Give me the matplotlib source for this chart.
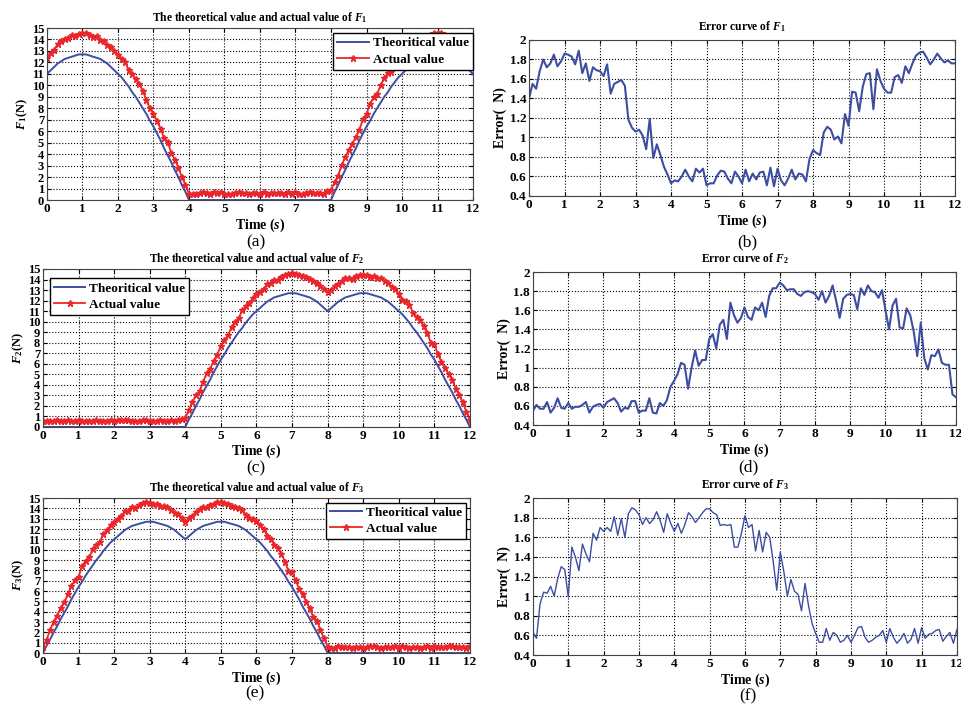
import numpy as np
import matplotlib.pyplot as plt

plt.rcParams['font.family'] = 'Liberation Serif'
plt.rcParams['font.weight'] = 'bold'
plt.rcParams['axes.labelweight'] = 'bold'
plt.rcParams['axes.titleweight'] = 'bold'
plt.rcParams['mathtext.fontset'] = 'custom'
plt.rcParams['mathtext.rm'] = 'Liberation Serif:bold'
plt.rcParams['mathtext.it'] = 'Liberation Serif:italic:bold'
plt.rcParams['mathtext.bf'] = 'Liberation Serif:bold'

BLUE = '#3d4ea2'
RED = '#e8262b'

# sampling instants, 0.1 s apart
time = np.linspace(0, 12, 121)

# theoretical force pieces over a 4 s stroke (0.1 s samples)
rise = [0.0, 0.7, 1.3, 2.0, 2.6, 3.3, 3.9, 4.5, 5.2, 5.8,
        6.4, 6.9, 7.5, 8.0, 8.5, 9.0, 9.4, 9.9, 10.3, 10.7,
        11.0, 11.3, 11.6, 11.9, 12.1, 12.3, 12.4, 12.5, 12.6, 12.7,
        12.7, 12.7, 12.6, 12.5, 12.4, 12.3, 12.1, 11.9, 11.6, 11.3]
fall = [11.0, 11.3, 11.6, 11.9, 12.1, 12.3, 12.4, 12.5, 12.6, 12.7,
        12.7, 12.7, 12.6, 12.5, 12.4, 12.3, 12.1, 11.9, 11.6, 11.3,
        11.0, 10.7, 10.3, 9.9, 9.4, 9.0, 8.5, 8.0, 7.5, 6.9,
        6.4, 5.8, 5.2, 4.5, 3.9, 3.3, 2.6, 2.0, 1.3, 0.7]
idle = [0.0] * 40

theory_f1 = np.array(fall + idle + rise + [11.0])
theory_f2 = np.array(idle + rise + fall + [0.0])
theory_f3 = np.array(rise + fall + idle + [0.0])

# measured error (N)
error_f1 = np.array([
    1.40, 1.55, 1.50, 1.68, 1.80, 1.72, 1.76, 1.85, 1.73, 1.78,
    1.86, 1.85, 1.83, 1.75, 1.89, 1.66, 1.76, 1.58, 1.72, 1.69,
    1.68, 1.63, 1.75, 1.45, 1.55, 1.57, 1.59, 1.53, 1.18, 1.10,
    1.06, 1.08, 1.02, 0.88, 1.19, 0.79, 0.93, 0.82, 0.70, 0.62,
    0.53, 0.56, 0.55, 0.60, 0.67, 0.60, 0.55, 0.68, 0.64, 0.68,
    0.51, 0.53, 0.53, 0.61, 0.66, 0.65, 0.58, 0.53, 0.65, 0.60,
    0.53, 0.67, 0.55, 0.63, 0.57, 0.64, 0.65, 0.51, 0.69, 0.50,
    0.68, 0.56, 0.51, 0.58, 0.67, 0.57, 0.63, 0.62, 0.55, 0.78,
    0.87, 0.84, 0.82, 1.05, 1.11, 1.08, 0.98, 1.01, 0.94, 1.24,
    1.12, 1.47, 1.46, 1.27, 1.52, 1.65, 1.66, 1.29, 1.70, 1.58,
    1.50, 1.46, 1.46, 1.62, 1.64, 1.56, 1.73, 1.66, 1.76, 1.84,
    1.87, 1.88, 1.82, 1.75, 1.80, 1.86, 1.81, 1.77, 1.79, 1.76,
    1.76])
error_f2 = np.array([
    0.55, 0.61, 0.57, 0.57, 0.64, 0.53, 0.58, 0.68, 0.58, 0.57,
    0.63, 0.57, 0.59, 0.59, 0.61, 0.64, 0.53, 0.59, 0.61, 0.62,
    0.58, 0.64, 0.66, 0.68, 0.63, 0.54, 0.58, 0.57, 0.65, 0.65,
    0.53, 0.55, 0.55, 0.68, 0.53, 0.52, 0.63, 0.60, 0.66, 0.80,
    0.86, 0.93, 1.05, 1.03, 0.78, 1.00, 1.18, 1.02, 1.08, 1.08,
    1.30, 1.35, 1.20, 1.45, 1.50, 1.30, 1.68, 1.55, 1.47, 1.52,
    1.63, 1.53, 1.50, 1.63, 1.60, 1.68, 1.53, 1.75, 1.83, 1.83,
    1.89, 1.86, 1.81, 1.82, 1.82, 1.77, 1.75, 1.79, 1.80, 1.79,
    1.77, 1.71, 1.80, 1.68, 1.75, 1.86, 1.70, 1.52, 1.72, 1.76,
    1.77, 1.76, 1.61, 1.83, 1.76, 1.86, 1.80, 1.79, 1.73, 1.81,
    1.60, 1.40, 1.65, 1.72, 1.42, 1.41, 1.62, 1.55, 1.38, 1.12,
    1.47, 1.10, 0.98, 1.13, 1.12, 1.19, 1.05, 1.03, 1.03, 0.72,
    0.69])
error_f3 = np.array([
    0.63, 0.57, 0.92, 1.04, 1.03, 1.10, 1.00, 1.18, 1.30, 1.27,
    0.99, 1.50, 1.40, 1.26, 1.53, 1.43, 1.35, 1.64, 1.57, 1.70,
    1.66, 1.70, 1.66, 1.81, 1.62, 1.79, 1.60, 1.84, 1.90, 1.88,
    1.83, 1.73, 1.80, 1.74, 1.78, 1.86, 1.77, 1.65, 1.84, 1.74,
    1.66, 1.74, 1.64, 1.73, 1.85, 1.81, 1.75, 1.80, 1.85, 1.89,
    1.89, 1.85, 1.83, 1.72, 1.73, 1.72, 1.73, 1.50, 1.50, 1.64,
    1.82, 1.70, 1.73, 1.46, 1.67, 1.45, 1.65, 1.60, 1.35, 1.06,
    1.45, 1.25, 1.00, 1.17, 1.05, 1.02, 0.85, 1.13, 0.90, 0.72,
    0.62, 0.53, 0.53, 0.67, 0.55, 0.63, 0.60, 0.53, 0.55, 0.60,
    0.53, 0.60, 0.68, 0.69, 0.58, 0.53, 0.55, 0.58, 0.60, 0.65,
    0.53, 0.67, 0.58, 0.52, 0.56, 0.62, 0.52, 0.56, 0.67, 0.52,
    0.68, 0.57, 0.61, 0.62, 0.65, 0.66, 0.54, 0.59, 0.63, 0.52,
    0.66])

err_ticks = [0.4, 0.6, 0.8, 1.0, 1.2, 1.4, 1.6, 1.8, 2.0]
err_labels = ['0.4', '0.6', '0.8', '1', '1.2', '1.4', '1.6', '1.8', '2']


def style_axes(ax):
    ax.set_xlim(0, 12)
    ax.set_xticks(range(13))
    ax.grid(True, ls=':', color='k', lw=0.8)
    ax.tick_params(direction='in', length=3, top=True, right=True,
                   labelsize=9.5, pad=2)
    for s in ax.spines.values():
        s.set_color('#444444')
        s.set_linewidth(0.8)
    ax.set_xlabel('Time $(s)$', fontsize=10, labelpad=1)


def force_panel(ax, theory, error, n, loc, anchor):
    actual = theory + error
    ax.plot(time, theory, color=BLUE, lw=1.4, label='Theoritical value')
    ax.plot(time, actual, color=RED, lw=1.3, marker='*', ms=5,
            label='Actual value')
    ax.set_ylim(0, 15)
    ax.set_yticks(range(16))
    style_axes(ax)
    ax.tick_params(axis='y', labelsize=9)
    ax.set_title('The theoretical value and actual value of $F_%d$' % n,
                 fontsize=8.3, pad=5)
    ax.set_ylabel('$F_%d$(N)' % n, fontsize=9, labelpad=1)
    ax.legend(loc=loc, bbox_to_anchor=anchor, fancybox=False,
              edgecolor='k', framealpha=1, fontsize=9.5, borderpad=0.3,
              labelspacing=0.3, handlelength=2.4, handletextpad=0.3,
              borderaxespad=0)


def error_panel(ax, error, n, lw):
    ax.plot(time, error, color=BLUE, lw=lw)
    ax.set_ylim(0.4, 2.0)
    ax.set_yticks(err_ticks)
    ax.set_yticklabels(err_labels)
    style_axes(ax)
    ax.set_title('Error curve of $F_%d$' % n, fontsize=8.3, pad=7)
    ax.set_ylabel('Error(  N)', fontsize=10, labelpad=2)


fig = plt.figure(figsize=(9.61, 7.04), dpi=100)

ax_a = fig.add_axes([0.0489, 0.7159, 0.4433, 0.2443])
ax_b = fig.add_axes([0.5505, 0.7216, 0.4433, 0.2216])
ax_c = fig.add_axes([0.0447, 0.3935, 0.4443, 0.2244])
ax_d = fig.add_axes([0.5546, 0.3963, 0.4402, 0.2173])
ax_e = fig.add_axes([0.0447, 0.0724, 0.4443, 0.2202])
ax_f = fig.add_axes([0.5546, 0.0696, 0.4412, 0.2230])

force_panel(ax_a, theory_f1, error_f1, 1, 'upper right', (1.0, 0.97))
force_panel(ax_c, theory_f2, error_f2, 2, 'upper left', (0.016, 0.94))
force_panel(ax_e, theory_f3, error_f3, 3, 'upper right', (0.99, 0.97))
error_panel(ax_b, error_f1, 1, 1.5)
error_panel(ax_d, error_f2, 2, 1.5)
error_panel(ax_f, error_f3, 3, 1.0)

for lab, x, y in [('(a)', 256, 242), ('(b)', 747, 242), ('(c)', 256, 468),
                  ('(d)', 748, 467), ('(e)', 255, 693), ('(f)', 748, 696)]:
    fig.text(x / 961, 1 - y / 704, lab, ha='center', va='center',
             fontsize=12.5, fontweight='normal')

fig.savefig('out.png', dpi=100)
